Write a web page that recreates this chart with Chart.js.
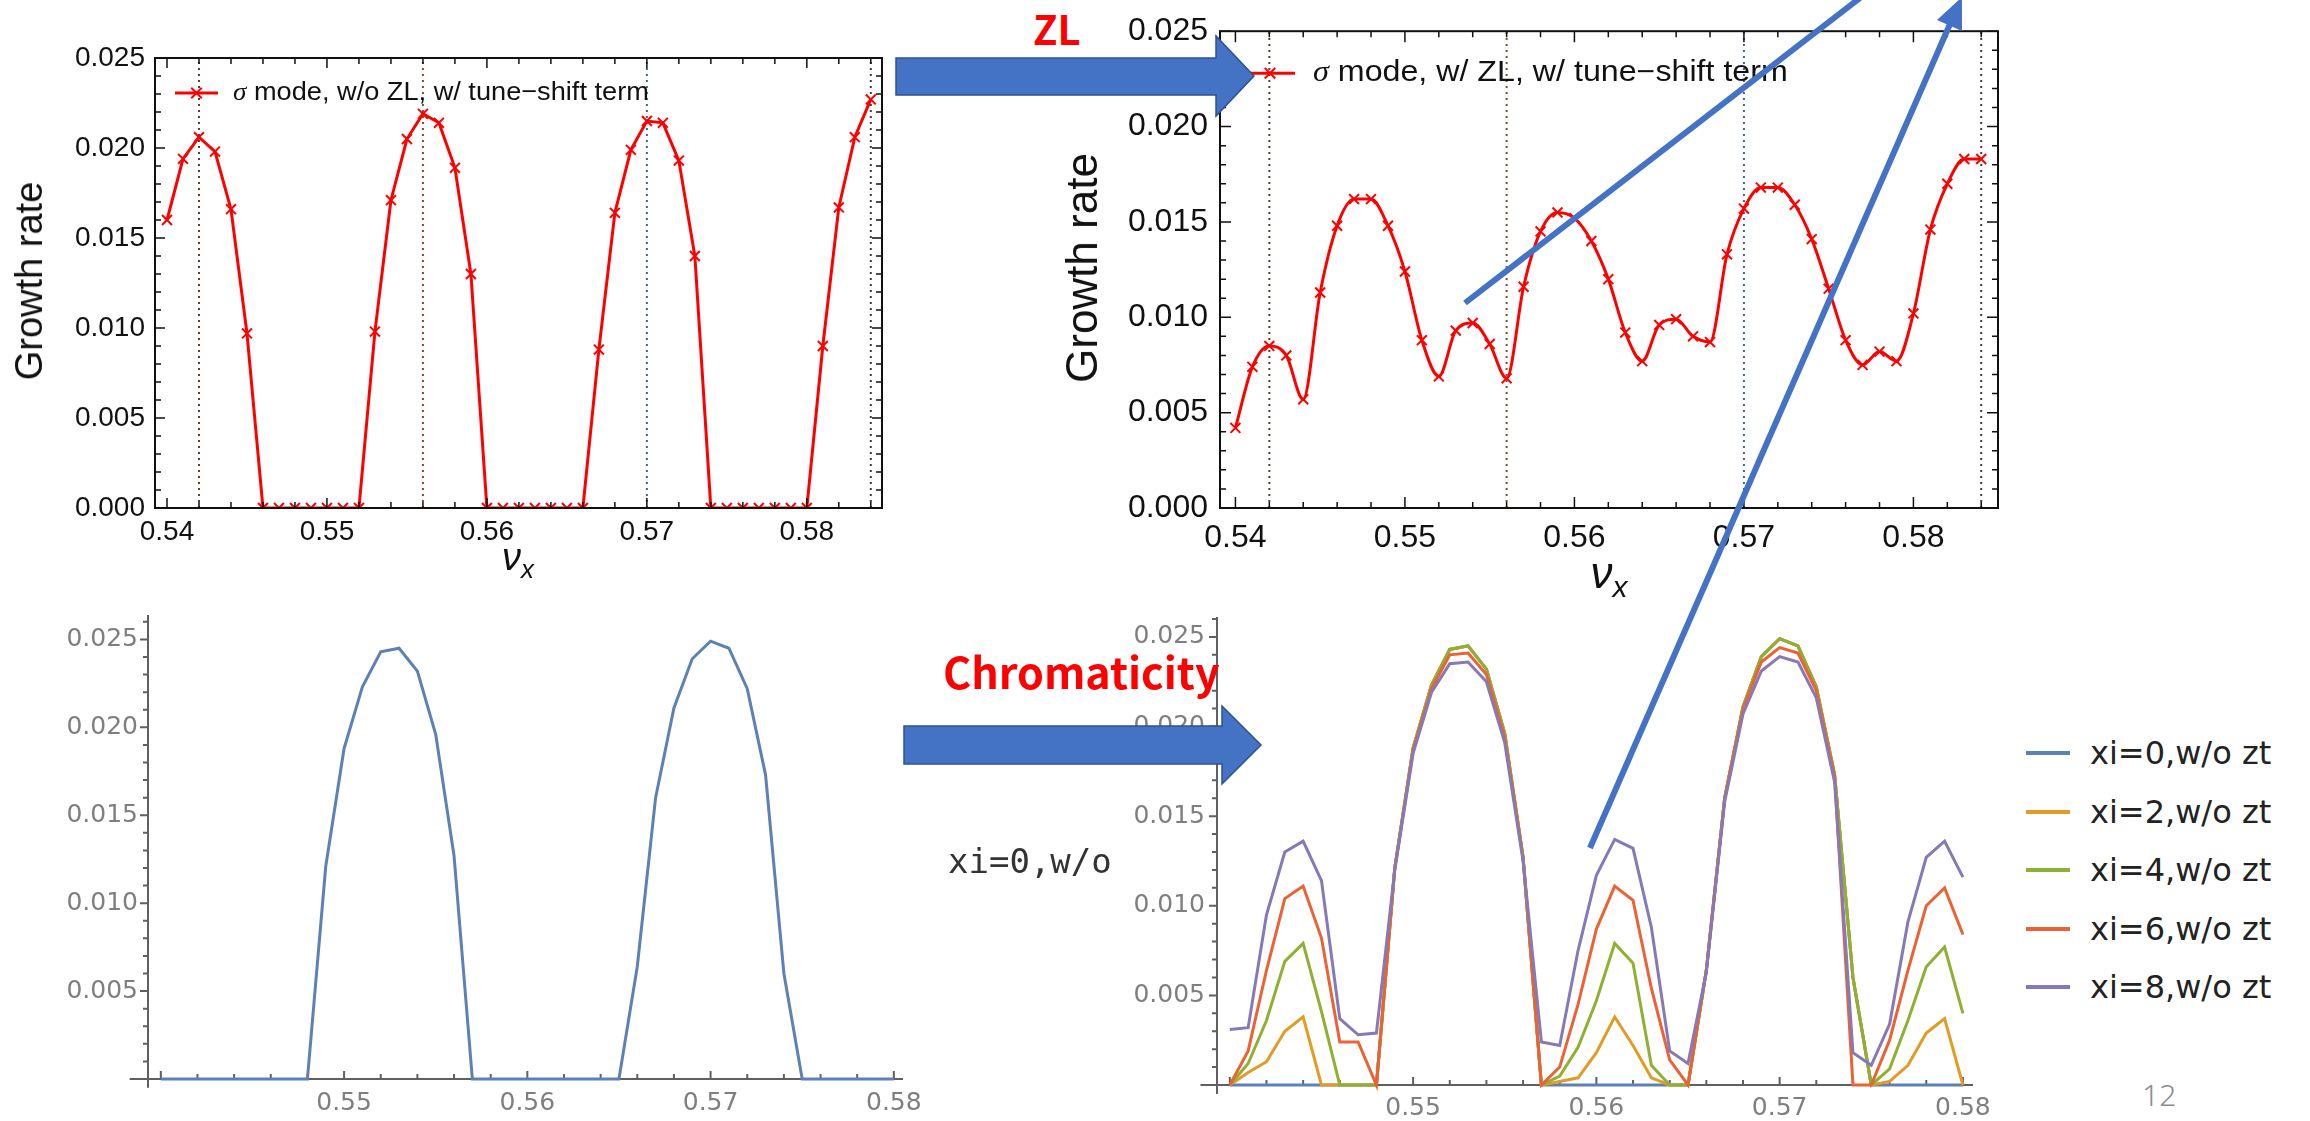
<!DOCTYPE html>
<html>
<head>
<meta charset="utf-8">
<script src="https://cdn.jsdelivr.net/npm/chart.js@4.4.1/dist/chart.umd.min.js"></script>
<style>
  html, body { margin: 0; padding: 0; background: #fff; }
  body { width: 2310px; height: 1121px; position: relative; overflow: hidden; font-family: 'Liberation Sans', Arial, sans-serif; }
  canvas { position: absolute; }
  .lbl { position: absolute; white-space: nowrap; line-height: 1; }
  .ylab { transform: translate(-50%, -50%) rotate(-90deg); color: #111; }
  .nu { transform: translateX(-50%); color: #111; font-style: italic; }
  .nu span { font-size: 0.68em; position: relative; top: 0.3em; }
  .red { color: #ff0000; font-family: 'Noto Sans CJK SC', 'Noto Sans', sans-serif; font-weight: bold; }
  #chromaKey { position: absolute; left: 2026px; top: 724px; font-family: 'DejaVu Sans', sans-serif; font-size: 32px; color: #222; }
  #chromaKey .row { height: 58.5px; display: flex; align-items: center; }
  #chromaKey .swatch { display: inline-block; width: 44px; height: 4px; margin-right: 20px; }
  svg { position: absolute; left: 0; top: 0; z-index: 5; }
</style>
</head>
<body>
<canvas id="noZL" width="900" height="560" style="left:0;top:0"></canvas>
<canvas id="withZL" width="920" height="580" style="left:1090px;top:0"></canvas>
<canvas id="xiZero" width="960" height="531" style="left:0;top:590px"></canvas>
<canvas id="xiScan" width="920" height="531" style="left:1100px;top:590px"></canvas>

<div class="lbl ylab" style="left:29px;top:281px;font-size:38px">Growth rate</div>
<div class="lbl ylab" style="left:1082px;top:268px;font-size:44px">Growth rate</div>
<div class="lbl nu" style="left:518px;top:538px;font-size:38px">ν<span>x</span></div>
<div class="lbl nu" style="left:1609px;top:551px;font-size:44px">ν<span>x</span></div>

<div class="lbl red" style="left:1033px;top:8px;font-size:40px">ZL</div>
<div class="lbl red" style="left:943px;top:649px;font-size:43px">Chromaticity</div>
<div class="lbl" style="left:948px;top:844px;font-size:34px;font-family:'DejaVu Sans Mono',monospace;color:#333">xi=0,w/o</div>
<div class="lbl" style="left:2142px;top:1080px;font-size:30px;font-family:'Noto Sans',sans-serif;font-weight:300;color:#8c8c8c">12</div>

<div id="chromaKey"></div>

<svg width="2310" height="1121">
  <g fill="#4472c4" stroke="#2f528f" stroke-width="1.5">
    <polygon points="896,58 1216,58 1216,36 1254,76 1216,116 1216,95 896,95"/>
    <polygon points="904,726 1222,726 1222,706 1261,745 1222,784 1222,764 904,764"/>
  </g>
  <g stroke="#4472c4" stroke-width="6" fill="none">
    <line x1="1465" y1="303" x2="1860" y2="-2"/>
    <line x1="1590" y1="848" x2="1950" y2="24"/>
  </g>
  <polygon points="1962,-3 1962,31 1937,20" fill="#4472c4"/>
</svg>

<script>
// tune scan (nu_x) for the sigma-mode runs
const tunesTop = [0.540, 0.541, 0.542, 0.543, 0.544, 0.545, 0.546, 0.547, 0.548, 0.549,
  0.550, 0.551, 0.552, 0.553, 0.554, 0.555, 0.556, 0.557, 0.558, 0.559,
  0.560, 0.561, 0.562, 0.563, 0.564, 0.565, 0.566, 0.567, 0.568, 0.569,
  0.570, 0.571, 0.572, 0.573, 0.574, 0.575, 0.576, 0.577, 0.578, 0.579,
  0.580, 0.581, 0.582, 0.583, 0.584];

const growthNoZL = [0.0160, 0.0194, 0.0206, 0.0198, 0.0166, 0.0097, 0, 0, 0, 0,
  0, 0, 0, 0.0098, 0.0171, 0.0205, 0.0219, 0.0214, 0.0189, 0.0130,
  0, 0, 0, 0, 0, 0, 0, 0.0088, 0.0164, 0.0199,
  0.0215, 0.0214, 0.0193, 0.0140, 0, 0, 0, 0, 0, 0,
  0, 0.0090, 0.0167, 0.0206, 0.0227];

const growthWithZL = [0.0042, 0.0074, 0.0085, 0.0080, 0.0057, 0.0113, 0.0148, 0.0162, 0.0162, 0.0148,
  0.0124, 0.0088, 0.0069, 0.0093, 0.0097, 0.0086, 0.0068, 0.0116, 0.0145, 0.0155,
  0.0152, 0.0140, 0.0120, 0.0092, 0.0077, 0.0096, 0.0099, 0.0090, 0.0087, 0.0133,
  0.0157, 0.0168, 0.0168, 0.0159, 0.0141, 0.0115, 0.0088, 0.0075, 0.0082, 0.0077,
  0.0102, 0.0146, 0.0170, 0.0183, 0.0183];

const resonanceTunes = [0.542, 0.556, 0.570, 0.584];
const resonanceColors = ['#5a4030', '#8a4a30', '#40609a', '#4a3a3a'];

const topXTicks = [0.54, 0.55, 0.56, 0.57, 0.58];
const topYTicks = [0, 0.005, 0.010, 0.015, 0.020, 0.025];

// chromaticity scan
const tunesBottom = [0.540, 0.541, 0.542, 0.543, 0.544, 0.545, 0.546, 0.547, 0.548, 0.549,
  0.550, 0.551, 0.552, 0.553, 0.554, 0.555, 0.556, 0.557, 0.558, 0.559,
  0.560, 0.561, 0.562, 0.563, 0.564, 0.565, 0.566, 0.567, 0.568, 0.569,
  0.570, 0.571, 0.572, 0.573, 0.574, 0.575, 0.576, 0.577, 0.578, 0.579, 0.580];

const growthXi0 = [0, 0, 0, 0, 0, 0, 0, 0, 0, 0.0121,
  0.0188, 0.0223, 0.0243, 0.0245, 0.0232, 0.0196, 0.0127, 0, 0, 0,
  0, 0, 0, 0, 0, 0, 0.0064, 0.0160, 0.0211, 0.0239,
  0.0249, 0.0245, 0.0222, 0.0173, 0.0060, 0, 0, 0, 0, 0, 0];
const growthXi2 = [0, 0.0007, 0.0013, 0.0030, 0.0038, 0, 0, 0, 0, 0.0121,
  0.0188, 0.0223, 0.0243, 0.0245, 0.0232, 0.0196, 0.0127, 0, 0.0002, 0.0004,
  0.0018, 0.0038, 0.0022, 0.0004, 0, 0, 0.0064, 0.0160, 0.0211, 0.0239,
  0.0249, 0.0245, 0.0222, 0.0173, 0.0060, 0, 0.0002, 0.0011, 0.0029, 0.0037, 0];
const growthXi4 = [0, 0.0012, 0.0036, 0.0069, 0.0079, 0.0041, 0, 0, 0, 0.0121,
  0.0188, 0.0223, 0.0243, 0.0245, 0.0232, 0.0196, 0.0127, 0, 0.0005, 0.0021,
  0.0047, 0.0079, 0.0068, 0.0011, 0, 0, 0.0064, 0.0160, 0.0211, 0.0239,
  0.0249, 0.0245, 0.0222, 0.0173, 0.0060, 0, 0.0009, 0.0036, 0.0066, 0.0077, 0.0040];
const growthXi6 = [0, 0.0019, 0.0064, 0.0104, 0.0111, 0.0082, 0.0024, 0.0024, 0, 0.0121,
  0.0187, 0.0221, 0.0240, 0.0241, 0.0229, 0.0194, 0.0127, 0, 0.0010, 0.0045,
  0.0087, 0.0111, 0.0103, 0.0054, 0.0014, 0, 0.0064, 0.0160, 0.0210, 0.0236,
  0.0244, 0.0241, 0.0220, 0.0172, 0, 0, 0.0025, 0.0064, 0.0100, 0.0110, 0.0084];
const growthXi8 = [0.0031, 0.0032, 0.0095, 0.0130, 0.0136, 0.0114, 0.0037, 0.0028, 0.0029, 0.0120,
  0.0185, 0.0219, 0.0235, 0.0236, 0.0225, 0.0191, 0.0125, 0.0024, 0.0022, 0.0075,
  0.0117, 0.0137, 0.0132, 0.0088, 0.0019, 0.0012, 0.0063, 0.0158, 0.0207, 0.0231,
  0.0239, 0.0236, 0.0216, 0.0169, 0.0018, 0.0011, 0.0034, 0.0091, 0.0127, 0.0136, 0.0116];

const chromaLabels = ['xi=0,w/o zt', 'xi=2,w/o zt', 'xi=4,w/o zt', 'xi=6,w/o zt', 'xi=8,w/o zt'];
const chromaColors = ['#5e81b5', '#e19c24', '#8fb032', '#eb6235', '#8778b6'];
const chromaSeries = [growthXi0, growthXi2, growthXi4, growthXi6, growthXi8];

const bottomXTicks = [0.55, 0.56, 0.57, 0.58];
const bottomYTicks = [0.005, 0.010, 0.015, 0.020, 0.025];

// ---- helpers ----
function steps(from, to, step) {
  const out = [];
  for (let v = from; v <= to + step / 2; v += step) out.push(+v.toFixed(4));
  return out;
}
const onGrid = (v, step) => Math.abs(v / step - Math.round(v / step)) < 1e-6;

// boxed frame with inward ticks on every side
const frameTicks = {
  id: 'frameTicks',
  afterDatasetsDraw(chart, args, o) {
    const { ctx, chartArea: a, scales: { x, y } } = chart;
    ctx.save();
    ctx.strokeStyle = '#111';
    ctx.lineWidth = 2;
    ctx.strokeRect(a.left, a.top, a.right - a.left, a.bottom - a.top);
    ctx.lineWidth = 1.5;
    ctx.beginPath();
    for (const v of steps(0.540, 0.584, 0.002)) {
      const px = x.getPixelForValue(v);
      const len = onGrid(v, 0.01) ? o.major : o.minor;
      ctx.moveTo(px, a.bottom); ctx.lineTo(px, a.bottom - len);
      ctx.moveTo(px, a.top); ctx.lineTo(px, a.top + len);
    }
    for (const v of steps(0, 0.025, 0.001)) {
      const py = y.getPixelForValue(v);
      const len = onGrid(v, 0.005) ? o.major : o.minor;
      ctx.moveTo(a.left, py); ctx.lineTo(a.left + len, py);
      ctx.moveTo(a.right, py); ctx.lineTo(a.right - len, py);
    }
    ctx.stroke();
    ctx.restore();
  }
};

// single-entry key drawn inside the frame (text slightly widened like the exported plot)
const curveKey = {
  id: 'curveKey',
  afterDatasetsDraw(chart, args, o) {
    const ds = chart.data.datasets[0];
    const { ctx, chartArea: a } = chart;
    const y0 = a.top + o.dy, x0 = a.left + o.x0, x1 = a.left + o.x1, xm = (x0 + x1) / 2;
    const r = ds.pointRadius * 0.75;
    ctx.save();
    ctx.strokeStyle = ds.borderColor;
    ctx.lineWidth = ds.borderWidth;
    ctx.beginPath(); ctx.moveTo(x0, y0); ctx.lineTo(x1, y0); ctx.stroke();
    ctx.lineWidth = 2;
    ctx.beginPath();
    ctx.moveTo(xm - r, y0 - r); ctx.lineTo(xm + r, y0 + r);
    ctx.moveTo(xm + r, y0 - r); ctx.lineTo(xm - r, y0 + r);
    ctx.stroke();
    ctx.translate(a.left + o.text, y0);
    ctx.scale(o.sx, 1);
    ctx.fillStyle = '#111';
    ctx.textBaseline = 'middle';
    ctx.font = `italic ${o.size}px 'Liberation Serif', serif`;
    const sigma = ds.label.slice(0, 1);
    ctx.fillText(sigma, 0, 0);
    const w = ctx.measureText(sigma).width;
    ctx.font = `${o.size}px 'Liberation Sans', Arial, sans-serif`;
    ctx.fillText(ds.label.slice(1), w, 0);
    ctx.restore();
  }
};

// open axes crossing near the origin, ticks outside on y and inside on x
const plotAxes = {
  id: 'plotAxes',
  beforeDatasetsDraw(chart, args, o) {
    const { ctx, scales: { x, y } } = chart;
    const x0 = x.getPixelForValue(x.min), y0 = y.getPixelForValue(0);
    ctx.save();
    ctx.strokeStyle = '#606060';
    ctx.lineWidth = 2;
    ctx.beginPath();
    ctx.moveTo(x.getPixelForValue(o.xFrom), y0); ctx.lineTo(x.right, y0);
    ctx.moveTo(x0, y.getPixelForValue(o.yFrom)); ctx.lineTo(x0, y.top);
    for (const v of steps(0.540, 0.580, 0.002)) {
      const px = x.getPixelForValue(v);
      ctx.moveTo(px, y0); ctx.lineTo(px, y0 - (onGrid(v, 0.01) ? 8 : 5));
    }
    for (const v of steps(0.001, 0.026, 0.001)) {
      const py = y.getPixelForValue(v);
      ctx.moveTo(x0, py); ctx.lineTo(x0 - (onGrid(v, 0.005) ? 8 : 5), py);
    }
    ctx.stroke();
    ctx.restore();
  }
};

function topChart(id, label, values, box) {
  const font = { family: "'Liberation Sans', Arial, sans-serif", size: box.font };
  return new Chart(document.getElementById(id), {
    type: 'line',
    data: {
      datasets: [
        {
          label,
          data: tunesTop.map((t, i) => ({ x: t, y: values[i] })),
          borderColor: '#ff0000', borderWidth: 3,
          pointStyle: 'crossRot', pointRadius: box.marker, pointBorderWidth: 2,
          pointBorderColor: '#ff0000',
          cubicInterpolationMode: box.smooth ? 'monotone' : 'default',
          order: 0
        },
        ...resonanceTunes.map((t, i) => ({
          label: 'nu=' + t,
          data: [{ x: t, y: 0 }, { x: t, y: 0.025 }],
          borderColor: resonanceColors[i], borderWidth: 2, borderDash: [2, 4],
          pointRadius: 0, order: 1
        }))
      ]
    },
    options: {
      responsive: false, animation: false, devicePixelRatio: 1, events: [],
      layout: { padding: { top: box.top, right: box.right, left: 0, bottom: 0 } },
      plugins: {
        legend: { display: false }, tooltip: { enabled: false },
        frameTicks: { major: box.major, minor: box.minor },
        curveKey: box.key
      },
      scales: {
        x: {
          type: 'linear', min: box.xMin, max: box.xMax,
          afterFit: s => { s.height = box.xHeight; },
          afterBuildTicks: s => { s.ticks = topXTicks.map(v => ({ value: v })); },
          grid: { display: false, drawTicks: false }, border: { display: false },
          ticks: { callback: v => v.toFixed(2), font, color: '#111', padding: box.xPad, maxRotation: 0, autoSkip: false }
        },
        y: {
          min: 0, max: 0.025,
          afterFit: s => { s.width = box.yWidth; },
          afterBuildTicks: s => { s.ticks = topYTicks.map(v => ({ value: v })); },
          grid: { display: false, drawTicks: false }, border: { display: false },
          ticks: { callback: v => v.toFixed(3), font, color: '#111', padding: box.yPad, autoSkip: false }
        }
      }
    },
    plugins: [frameTicks, curveKey]
  });
}

function bottomChart(id, seriesIdx, box) {
  const font = { family: "'DejaVu Sans', sans-serif", size: 25 };
  return new Chart(document.getElementById(id), {
    type: 'line',
    data: {
      datasets: seriesIdx.map(k => ({
        label: chromaLabels[k],
        data: tunesBottom.map((t, i) => ({ x: t, y: chromaSeries[k][i] })),
        borderColor: chromaColors[k], borderWidth: 3, pointRadius: 0,
        order: chromaSeries.length - k, clip: false
      }))
    },
    options: {
      responsive: false, animation: false, devicePixelRatio: 1, events: [],
      layout: { padding: { top: box.top, right: box.right, left: 0, bottom: 0 } },
      plugins: {
        legend: { display: false }, tooltip: { enabled: false },
        plotAxes: { xFrom: box.xFrom, yFrom: -0.0005 }
      },
      scales: {
        x: {
          type: 'linear', min: 0.5393, max: box.xMax,
          afterFit: s => { s.height = box.xHeight; },
          afterBuildTicks: s => { s.ticks = bottomXTicks.map(v => ({ value: v })); },
          grid: { display: false, drawTicks: false }, border: { display: false },
          ticks: { callback: v => v.toFixed(2), font, color: '#7f7f7f', padding: box.xPad, maxRotation: 0, autoSkip: false }
        },
        y: {
          min: 0, max: box.yMax,
          afterFit: s => { s.width = box.yWidth; },
          afterBuildTicks: s => { s.ticks = bottomYTicks.map(v => ({ value: v })); },
          grid: { display: false, drawTicks: false }, border: { display: false },
          ticks: { callback: v => v.toFixed(3), font, color: '#7f7f7f', padding: box.yPad, autoSkip: false }
        }
      }
    },
    plugins: [plotAxes]
  });
}

topChart('noZL', 'σ mode, w/o ZL, w/ tune−shift term', growthNoZL, {
  top: 58, right: 18, yWidth: 155, xHeight: 52, xMin: 0.53925, xMax: 0.5847,
  font: 28, xPad: 7, yPad: 10, marker: 7, major: 10, minor: 6, smooth: false,
  key: { x0: 20, x1: 63, dy: 35, text: 78, size: 26, sx: 1.045 }
});

topChart('withZL', 'σ mode, w/ ZL, w/ tune−shift term', growthWithZL, {
  top: 28, right: 12, yWidth: 130, xHeight: 72, xMin: 0.53909, xMax: 0.58499,
  font: 32, xPad: 11, yPad: 12, marker: 7, major: 11, minor: 6, smooth: true,
  key: { x0: 25, x1: 75, dy: 42, text: 93, size: 29, sx: 1.11 }
});

bottomChart('xiZero', [0], {
  top: 17, right: 57, yWidth: 148, xHeight: 42, xMax: 0.5805, yMax: 0.02639,
  xFrom: 0.5383, xPad: 9, yPad: 10
});

bottomChart('xiScan', [0, 1, 2, 3, 4], {
  top: 25, right: 47, yWidth: 117, xHeight: 36, xMax: 0.58055, yMax: 0.02611,
  xFrom: 0.5384, xPad: 8, yPad: 12
});

// key for the chromaticity scan
const key = document.getElementById('chromaKey');
chromaLabels.forEach((name, i) => {
  const row = document.createElement('div');
  row.className = 'row';
  row.innerHTML = `<span class="swatch" style="background:${chromaColors[i]}"></span><span>${name}</span>`;
  key.appendChild(row);
});
</script>
</body>
</html>
